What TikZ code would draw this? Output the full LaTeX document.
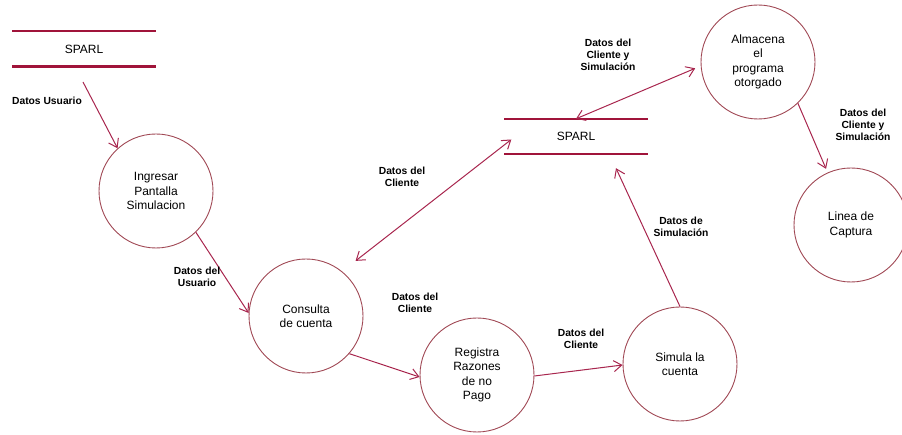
\documentclass[tikz,border=0pt]{standalone}
\usepackage{fontspec}
\setmainfont{Liberation Sans}
\usetikzlibrary{arrows.meta,calc}
\definecolor{trazo}{RGB}{168,38,78}
\definecolor{borde}{RGB}{160,72,84}
\definecolor{almac}{RGB}{160,20,58}
\begin{document}
\begin{tikzpicture}[x=1pt,y=1pt,
  >={Straight Barb[length=8pt,width=11pt]},
  proceso/.style={draw=borde,line width=0.9pt,circle,minimum size=114pt,inner sep=0pt,
    align=center,font=\fontsize{12}{14.5}\selectfont},
  almacen/.style={minimum width=143pt,minimum height=35pt,inner sep=0pt,
    font=\fontsize{12}{14}\selectfont},
  raya/.style={draw=almac,line width=2.4pt},
  flujo/.style={draw=trazo,line width=1pt},
  etiqueta/.style={align=center,font=\fontsize{10.3}{12}\selectfont\bfseries}]
\useasboundingbox (0,0) rectangle (902,435);
%almacenes
\node[almacen] (s1) at (84,386) {SPARL};
\node[almacen] (s2) at (576,298.5) {SPARL};
\draw[raya] (s1.north west) -- (s1.north east) (s1.south west) -- (s1.south east);
\draw[raya] (s2.north west) -- (s2.north east) (s2.south west) -- (s2.south east);
%procesos
\node[proceso] (ing) at (156,244) {Ingresar\\Pantalla\\Simulacion};
\node[proceso] (con) at (306,119) {Consulta\\de cuenta};
\node[proceso] (reg) at (477,60) {Registra\\Razones\\de no\\Pago};
\node[proceso] (sim) at (680,71) {Simula la\\cuenta};
\node[proceso] (alm) at (758,373) {Almacena\\el\\programa\\otorgado};
\node[proceso] (lin) at (851,210) {Linea de\\Captura};
%flujos
\coordinate (u) at (83,353);
\draw[flujo,->] (u) -- (ing.132);
\draw[flujo,->] (ing.-46) -- (con.177);
\draw[flujo,<->,shorten <=17pt] (con.51) -- ($(s2.west)+(7,-3)$);
\draw[flujo,<->,shorten >=6pt] (s2.north) -- (alm.184);
\draw[flujo,->,shorten >=4pt] (alm.-46) -- (lin.114);
\draw[flujo,->] (con.-41) -- (reg.182);
\draw[flujo,->] (reg.-1) -- (sim.181);
\draw[flujo,->] (sim.90) -- ($(s2.south)+(40,-14)$);
%etiquetas
\node[etiqueta] (e1) at (47,334) {Datos Usuario};
\node[etiqueta] (e2) at (197,158) {Datos del\\Usuario};
\node[etiqueta] (e3) at (402,258) {Datos del\\Cliente};
\node[etiqueta] (e4) at (608,380) {Datos del\\Cliente y\\Simulación};
\node[etiqueta] (e5) at (863,310) {Datos del\\Cliente y\\Simulación};
\node[etiqueta] (e6) at (415,132) {Datos del\\Cliente};
\node[etiqueta] (e7) at (581,96) {Datos del\\Cliente};
\node[etiqueta] (e8) at (681,208) {Datos de\\Simulación};
\end{tikzpicture}
\end{document}
